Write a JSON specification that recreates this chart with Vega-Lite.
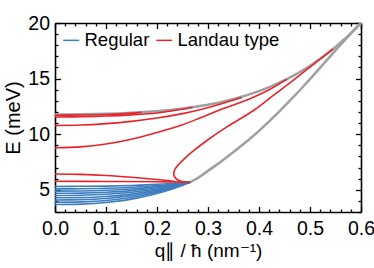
{
  "$schema": "https://vega.github.io/schema/vega-lite/v6.json",
  "autosize": "none",
  "width": 306,
  "height": 189,
  "padding": {"left": 55, "top": 23, "right": 13, "bottom": 56},
  "config": {
    "view": {"stroke": null},
    "font": "Liberation Sans",
    "axis": {"grid": false, "titleFontWeight": "normal"}
  },
  "data": {"values": [
    {"id":"g1","t":"gray","i":0,"q":0,"E":11.78},
    {"id":"g1","t":"gray","i":1,"q":0.025,"E":11.78},
    {"id":"g1","t":"gray","i":2,"q":0.05,"E":11.79},
    {"id":"g1","t":"gray","i":3,"q":0.075,"E":11.81},
    {"id":"g1","t":"gray","i":4,"q":0.1,"E":11.84},
    {"id":"g1","t":"gray","i":5,"q":0.125,"E":11.87},
    {"id":"g1","t":"gray","i":6,"q":0.15,"E":11.92},
    {"id":"g1","t":"gray","i":7,"q":0.175,"E":11.99},
    {"id":"g1","t":"gray","i":8,"q":0.2,"E":12.07},
    {"id":"g1","t":"gray","i":9,"q":0.225,"E":12.17},
    {"id":"g1","t":"gray","i":10,"q":0.25,"E":12.3},
    {"id":"g1","t":"gray","i":11,"q":0.275,"E":12.46},
    {"id":"g1","t":"gray","i":12,"q":0.3,"E":12.65},
    {"id":"g1","t":"gray","i":13,"q":0.325,"E":12.88},
    {"id":"g1","t":"gray","i":14,"q":0.35,"E":13.16},
    {"id":"g1","t":"gray","i":15,"q":0.375,"E":13.49},
    {"id":"g1","t":"gray","i":16,"q":0.4,"E":13.87},
    {"id":"g1","t":"gray","i":17,"q":0.425,"E":14.32},
    {"id":"g1","t":"gray","i":18,"q":0.45,"E":14.85},
    {"id":"g1","t":"gray","i":19,"q":0.475,"E":15.45},
    {"id":"g1","t":"gray","i":20,"q":0.5,"E":16.15},
    {"id":"g1","t":"gray","i":21,"q":0.525,"E":16.94},
    {"id":"g1","t":"gray","i":22,"q":0.55,"E":17.84},
    {"id":"g1","t":"gray","i":23,"q":0.575,"E":18.86},
    {"id":"g1","t":"gray","i":24,"q":0.6,"E":20},

    {"id":"g2","t":"gray","i":0,"q":0.265,"E":5.68},
    {"id":"g2","t":"gray","i":1,"q":0.28,"E":6.05},
    {"id":"g2","t":"gray","i":2,"q":0.3,"E":6.7},
    {"id":"g2","t":"gray","i":3,"q":0.32,"E":7.35},
    {"id":"g2","t":"gray","i":4,"q":0.35,"E":8.4},
    {"id":"g2","t":"gray","i":5,"q":0.38,"E":9.5},
    {"id":"g2","t":"gray","i":6,"q":0.4,"E":10.3},
    {"id":"g2","t":"gray","i":7,"q":0.42,"E":11.15},
    {"id":"g2","t":"gray","i":8,"q":0.44,"E":12.05},
    {"id":"g2","t":"gray","i":9,"q":0.46,"E":13.0},
    {"id":"g2","t":"gray","i":10,"q":0.48,"E":13.95},
    {"id":"g2","t":"gray","i":11,"q":0.5,"E":14.95},
    {"id":"g2","t":"gray","i":12,"q":0.53,"E":16.5},
    {"id":"g2","t":"gray","i":13,"q":0.56,"E":18.05},
    {"id":"g2","t":"gray","i":14,"q":0.58,"E":19.05},
    {"id":"g2","t":"gray","i":15,"q":0.6,"E":20},

    {"id":"b1","t":"Regular","i":0,"q":0,"E":5.3},
    {"id":"b1","t":"Regular","i":1,"q":0.05,"E":5.31},
    {"id":"b1","t":"Regular","i":2,"q":0.1,"E":5.33},
    {"id":"b1","t":"Regular","i":3,"q":0.15,"E":5.39},
    {"id":"b1","t":"Regular","i":4,"q":0.2,"E":5.49},
    {"id":"b1","t":"Regular","i":5,"q":0.23,"E":5.57},
    {"id":"b1","t":"Regular","i":6,"q":0.25,"E":5.63},
    {"id":"b1","t":"Regular","i":7,"q":0.265,"E":5.68},
    {"id":"b2","t":"Regular","i":0,"q":0,"E":5.08},
    {"id":"b2","t":"Regular","i":1,"q":0.05,"E":5.09},
    {"id":"b2","t":"Regular","i":2,"q":0.1,"E":5.13},
    {"id":"b2","t":"Regular","i":3,"q":0.15,"E":5.23},
    {"id":"b2","t":"Regular","i":4,"q":0.2,"E":5.38},
    {"id":"b2","t":"Regular","i":5,"q":0.23,"E":5.5},
    {"id":"b2","t":"Regular","i":6,"q":0.25,"E":5.6},
    {"id":"b2","t":"Regular","i":7,"q":0.265,"E":5.68},
    {"id":"b3","t":"Regular","i":0,"q":0,"E":4.88},
    {"id":"b3","t":"Regular","i":1,"q":0.05,"E":4.89},
    {"id":"b3","t":"Regular","i":2,"q":0.1,"E":4.95},
    {"id":"b3","t":"Regular","i":3,"q":0.15,"E":5.07},
    {"id":"b3","t":"Regular","i":4,"q":0.2,"E":5.28},
    {"id":"b3","t":"Regular","i":5,"q":0.23,"E":5.44},
    {"id":"b3","t":"Regular","i":6,"q":0.25,"E":5.57},
    {"id":"b3","t":"Regular","i":7,"q":0.265,"E":5.68},
    {"id":"b4","t":"Regular","i":0,"q":0,"E":4.68},
    {"id":"b4","t":"Regular","i":1,"q":0.05,"E":4.7},
    {"id":"b4","t":"Regular","i":2,"q":0.1,"E":4.77},
    {"id":"b4","t":"Regular","i":3,"q":0.15,"E":4.92},
    {"id":"b4","t":"Regular","i":4,"q":0.2,"E":5.18},
    {"id":"b4","t":"Regular","i":5,"q":0.23,"E":5.38},
    {"id":"b4","t":"Regular","i":6,"q":0.25,"E":5.54},
    {"id":"b4","t":"Regular","i":7,"q":0.265,"E":5.68},
    {"id":"b5","t":"Regular","i":0,"q":0,"E":4.48},
    {"id":"b5","t":"Regular","i":1,"q":0.05,"E":4.5},
    {"id":"b5","t":"Regular","i":2,"q":0.1,"E":4.59},
    {"id":"b5","t":"Regular","i":3,"q":0.15,"E":4.77},
    {"id":"b5","t":"Regular","i":4,"q":0.2,"E":5.07},
    {"id":"b5","t":"Regular","i":5,"q":0.23,"E":5.32},
    {"id":"b5","t":"Regular","i":6,"q":0.25,"E":5.52},
    {"id":"b5","t":"Regular","i":7,"q":0.265,"E":5.68},
    {"id":"b6","t":"Regular","i":0,"q":0,"E":4.28},
    {"id":"b6","t":"Regular","i":1,"q":0.05,"E":4.3},
    {"id":"b6","t":"Regular","i":2,"q":0.1,"E":4.4},
    {"id":"b6","t":"Regular","i":3,"q":0.15,"E":4.62},
    {"id":"b6","t":"Regular","i":4,"q":0.2,"E":4.97},
    {"id":"b6","t":"Regular","i":5,"q":0.23,"E":5.26},
    {"id":"b6","t":"Regular","i":6,"q":0.25,"E":5.49},
    {"id":"b6","t":"Regular","i":7,"q":0.265,"E":5.68},
    {"id":"b7","t":"Regular","i":0,"q":0,"E":4.08},
    {"id":"b7","t":"Regular","i":1,"q":0.05,"E":4.11},
    {"id":"b7","t":"Regular","i":2,"q":0.1,"E":4.22},
    {"id":"b7","t":"Regular","i":3,"q":0.15,"E":4.47},
    {"id":"b7","t":"Regular","i":4,"q":0.2,"E":4.87},
    {"id":"b7","t":"Regular","i":5,"q":0.23,"E":5.2},
    {"id":"b7","t":"Regular","i":6,"q":0.25,"E":5.46},
    {"id":"b7","t":"Regular","i":7,"q":0.265,"E":5.68},
    {"id":"b8","t":"Regular","i":0,"q":0,"E":3.88},
    {"id":"b8","t":"Regular","i":1,"q":0.05,"E":3.91},
    {"id":"b8","t":"Regular","i":2,"q":0.1,"E":4.04},
    {"id":"b8","t":"Regular","i":3,"q":0.15,"E":4.31},
    {"id":"b8","t":"Regular","i":4,"q":0.2,"E":4.77},
    {"id":"b8","t":"Regular","i":5,"q":0.23,"E":5.14},
    {"id":"b8","t":"Regular","i":6,"q":0.25,"E":5.44},
    {"id":"b8","t":"Regular","i":7,"q":0.265,"E":5.68},
    {"id":"b9","t":"Regular","i":0,"q":0,"E":3.68},
    {"id":"b9","t":"Regular","i":1,"q":0.05,"E":3.71},
    {"id":"b9","t":"Regular","i":2,"q":0.1,"E":3.86},
    {"id":"b9","t":"Regular","i":3,"q":0.15,"E":4.16},
    {"id":"b9","t":"Regular","i":4,"q":0.2,"E":4.67},
    {"id":"b9","t":"Regular","i":5,"q":0.23,"E":5.08},
    {"id":"b9","t":"Regular","i":6,"q":0.25,"E":5.41},
    {"id":"b9","t":"Regular","i":7,"q":0.265,"E":5.68},

    {"id":"r1","t":"Landau type","i":0,"q":0,"E":11.7},
    {"id":"r1","t":"Landau type","i":1,"q":0.05,"E":11.72},
    {"id":"r1","t":"Landau type","i":2,"q":0.1,"E":11.77},
    {"id":"r1","t":"Landau type","i":3,"q":0.14,"E":11.85},
    {"id":"r1","t":"Landau type","i":4,"q":0.17,"E":11.96},
    {"id":"r2","t":"Landau type","i":0,"q":0,"E":11.55},
    {"id":"r2","t":"Landau type","i":1,"q":0.05,"E":11.57},
    {"id":"r2","t":"Landau type","i":2,"q":0.1,"E":11.63},
    {"id":"r2","t":"Landau type","i":3,"q":0.15,"E":11.74},
    {"id":"r2","t":"Landau type","i":4,"q":0.2,"E":11.91},
    {"id":"r2","t":"Landau type","i":5,"q":0.24,"E":12.17},
    {"id":"r2","t":"Landau type","i":6,"q":0.27,"E":12.42},
    {"id":"r3","t":"Landau type","i":0,"q":0,"E":10.78},
    {"id":"r3","t":"Landau type","i":1,"q":0.05,"E":10.82},
    {"id":"r3","t":"Landau type","i":2,"q":0.1,"E":10.95},
    {"id":"r3","t":"Landau type","i":3,"q":0.15,"E":11.15},
    {"id":"r3","t":"Landau type","i":4,"q":0.2,"E":11.45},
    {"id":"r3","t":"Landau type","i":5,"q":0.25,"E":11.85},
    {"id":"r3","t":"Landau type","i":6,"q":0.284,"E":12.2},
    {"id":"r3","t":"Landau type","i":7,"q":0.32,"E":12.65},
    {"id":"r3","t":"Landau type","i":8,"q":0.366,"E":13.3},
    {"id":"r4","t":"Landau type","i":0,"q":0,"E":8.78},
    {"id":"r4","t":"Landau type","i":1,"q":0.05,"E":8.86},
    {"id":"r4","t":"Landau type","i":2,"q":0.1,"E":9.12},
    {"id":"r4","t":"Landau type","i":3,"q":0.15,"E":9.55},
    {"id":"r4","t":"Landau type","i":4,"q":0.2,"E":10.15},
    {"id":"r4","t":"Landau type","i":5,"q":0.25,"E":10.85},
    {"id":"r4","t":"Landau type","i":6,"q":0.284,"E":11.45},
    {"id":"r4","t":"Landau type","i":7,"q":0.33,"E":12.3},
    {"id":"r4","t":"Landau type","i":8,"q":0.38,"E":13.15},
    {"id":"r4","t":"Landau type","i":9,"q":0.42,"E":14.0},
    {"id":"r4","t":"Landau type","i":10,"q":0.455,"E":14.95},
    {"id":"r5","t":"Landau type","i":0,"q":0,"E":6.42},
    {"id":"r5","t":"Landau type","i":1,"q":0.05,"E":6.38},
    {"id":"r5","t":"Landau type","i":2,"q":0.1,"E":6.28},
    {"id":"r5","t":"Landau type","i":3,"q":0.15,"E":6.12},
    {"id":"r5","t":"Landau type","i":4,"q":0.2,"E":5.92},
    {"id":"r5","t":"Landau type","i":5,"q":0.235,"E":5.75},
    {"id":"r6","t":"Landau type","i":0,"q":0,"E":5.76},
    {"id":"r6","t":"Landau type","i":1,"q":0.1,"E":5.75},
    {"id":"r6","t":"Landau type","i":2,"q":0.2,"E":5.72},
    {"id":"r6","t":"Landau type","i":3,"q":0.26,"E":5.69},
    {"id":"r7","t":"Landau type","i":0,"q":0.265,"E":5.68},
    {"id":"r7","t":"Landau type","i":1,"q":0.25,"E":5.74},
    {"id":"r7","t":"Landau type","i":2,"q":0.24,"E":5.9},
    {"id":"r7","t":"Landau type","i":3,"q":0.234,"E":6.2},
    {"id":"r7","t":"Landau type","i":4,"q":0.233,"E":6.55},
    {"id":"r7","t":"Landau type","i":5,"q":0.236,"E":6.9},
    {"id":"r7","t":"Landau type","i":6,"q":0.243,"E":7.3},
    {"id":"r7","t":"Landau type","i":7,"q":0.255,"E":7.85},
    {"id":"r7","t":"Landau type","i":8,"q":0.27,"E":8.45},
    {"id":"r7","t":"Landau type","i":9,"q":0.3,"E":9.5},
    {"id":"r7","t":"Landau type","i":10,"q":0.337,"E":10.65},
    {"id":"r7","t":"Landau type","i":11,"q":0.39,"E":12.15},
    {"id":"r7","t":"Landau type","i":12,"q":0.43,"E":13.55},
    {"id":"r7","t":"Landau type","i":13,"q":0.47,"E":14.95},
    {"id":"r7","t":"Landau type","i":14,"q":0.51,"E":16.4},
    {"id":"r7","t":"Landau type","i":15,"q":0.545,"E":17.66}
  ]},
  "resolve": {"axis": {"x": "independent", "y": "independent"}},
  "layer": [
    {
      "transform": [{"filter": "datum.id == 'g1'"}],
      "mark": {"type": "line", "color": "#a0a0a0", "strokeWidth": 2.5},
      "encoding": {
        "x": {"field": "q", "type": "quantitative", "scale": {"domain": [0, 0.6], "nice": false, "zero": false},
          "axis": {"orient": "bottom", "values": [0,0.02,0.04,0.06,0.08,0.1,0.12,0.14,0.16,0.18,0.2,0.22,0.24,0.26,0.28,0.3,0.32,0.34,0.36,0.38,0.4,0.42,0.44,0.46,0.48,0.5,0.52,0.54,0.56,0.58,0.6],
            "labelExpr": "abs(datum.value*10 - round(datum.value*10)) < 0.001 ? format(datum.value, '.1f') : ''",
            "tickSize": {"condition": {"test": "abs(datum.value*10 - round(datum.value*10)) < 0.001", "value": -5.5}, "value": -3},
            "tickColor": "black", "tickWidth": 1.3, "domainColor": "black", "domainWidth": 1.6,
            "labelPadding": 13, "labelFontSize": 19.5, "labelFlush": false, "labelOverlap": false,
            "title": "q∥ / ħ (nm⁻¹)", "titleFontSize": 19, "titlePadding": 1}},
        "y": {"field": "E", "type": "quantitative", "scale": {"domain": [3, 20], "nice": false, "zero": false},
          "axis": {"orient": "left", "values": [3,4,5,6,7,8,9,10,11,12,13,14,15,16,17,18,19,20],
            "labelExpr": "datum.value % 5 == 0 ? datum.label : ''",
            "tickSize": {"condition": {"test": "datum.value % 5 == 0", "value": -5.5}, "value": -3},
            "tickColor": "black", "tickWidth": 1.3, "domainColor": "black", "domainWidth": 1.6,
            "labelPadding": 11, "labelFontSize": 19.5, "labelFlush": false, "labelOverlap": false,
            "title": "E (meV)", "titleFontSize": 20, "titlePadding": 4}}
      }
    },
    {
      "transform": [{"filter": "datum.id == 'g2'"}],
      "mark": {"type": "line", "color": "#a0a0a0", "strokeWidth": 2.5},
      "encoding": {
        "x": {"field": "q", "type": "quantitative",
          "axis": {"orient": "top", "values": [0,0.02,0.04,0.06,0.08,0.1,0.12,0.14,0.16,0.18,0.2,0.22,0.24,0.26,0.28,0.3,0.32,0.34,0.36,0.38,0.4,0.42,0.44,0.46,0.48,0.5,0.52,0.54,0.56,0.58,0.6],
            "tickSize": {"condition": {"test": "abs(datum.value*10 - round(datum.value*10)) < 0.001", "value": -5.5}, "value": -3},
            "tickColor": "black", "tickWidth": 1.3, "domainColor": "black", "domainWidth": 1.6, "labels": false, "title": null}},
        "y": {"field": "E", "type": "quantitative",
          "axis": {"orient": "right", "values": [3,4,5,6,7,8,9,10,11,12,13,14,15,16,17,18,19,20],
            "tickSize": {"condition": {"test": "datum.value % 5 == 0", "value": -5.5}, "value": -3},
            "tickColor": "black", "tickWidth": 1.3, "domainColor": "black", "domainWidth": 1.6, "labels": false, "title": null}}
      }
    },
    {
      "transform": [{"filter": "datum.t != 'gray'"}],
      "mark": {"type": "line", "strokeWidth": 1.6, "interpolate": "catmull-rom"},
      "encoding": {
        "x": {"field": "q", "type": "quantitative", "axis": null},
        "y": {"field": "E", "type": "quantitative", "axis": null},
        "color": {"field": "t", "type": "nominal", "scale": {"domain": ["Regular", "Landau type"], "range": ["#3d7ebf", "#e8232b"]},
          "legend": {"orient": "none", "legendX": 7, "legendY": 8, "direction": "horizontal", "title": null, "symbolType": "stroke", "symbolStrokeWidth": 1.5, "symbolSize": 256, "labelFontSize": 18.5, "labelOffset": 4, "columnPadding": 3, "padding": 0, "labelColor": "black"}},
        "detail": {"field": "id"},
        "order": {"field": "i", "type": "quantitative"}
      }
    }
  ]
}
